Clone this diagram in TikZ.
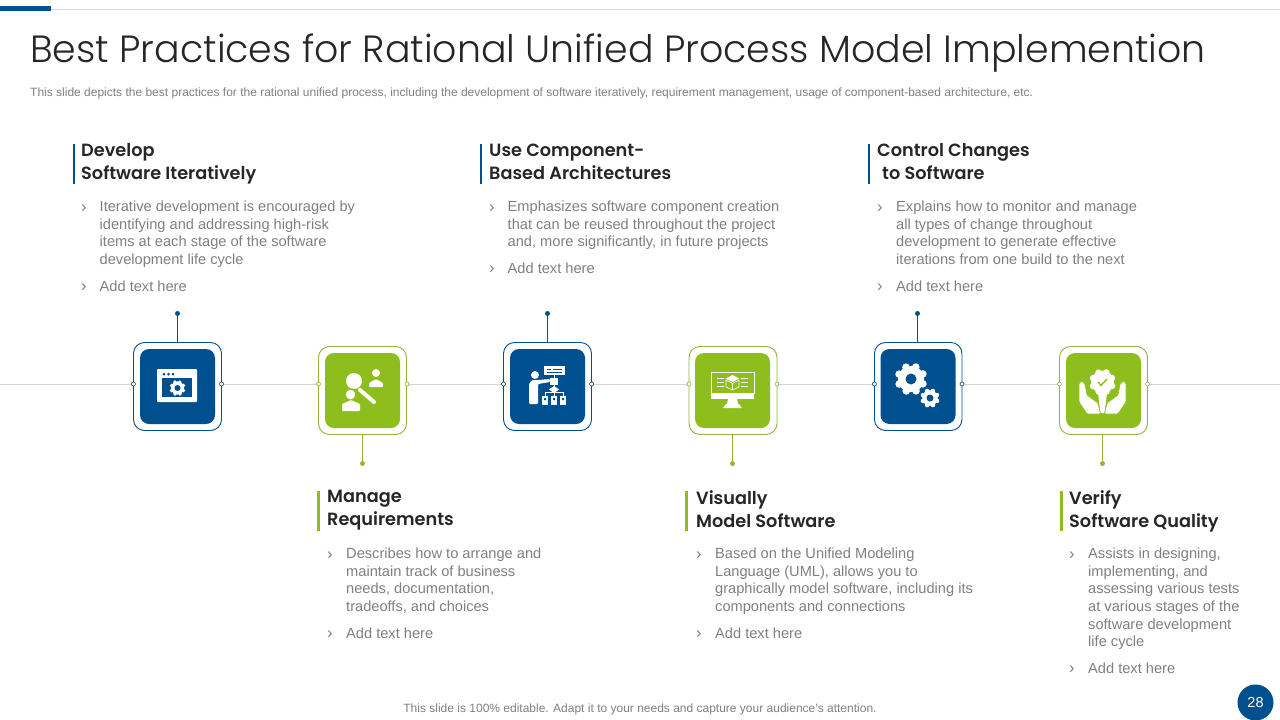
\documentclass[tikz,border=0pt]{standalone}
\usepackage{fontspec}
\setmainfont{Liberation Sans}
\newfontfamily\titlefont{Poppins Light}
\newfontfamily\headfont{Poppins SemiBold}
\definecolor{slideblue}{HTML}{00508F}
\definecolor{slidegreen}{HTML}{8DBE1D}
\definecolor{framegreen}{HTML}{93B33A}
\definecolor{textgray}{HTML}{7F7F7F}
\definecolor{darktext}{HTML}{262626}
\definecolor{rulegray}{HTML}{D4D4D4}
% scalloped wheel: x, y, radius, hole radius, hole colour
\newcommand{\cogwheel}[5]{
\fill[white] (#1,#2) circle ({0.82*#3});
\foreach \a in {0,45,...,315} {\fill[white] ($(#1,#2)+(\a+22:{0.8*#3})$) circle ({0.24*#3});}
\fill[#5] (#1,#2) circle (#4);
}
\usetikzlibrary{calc}

\begin{document}
\begin{tikzpicture}[x=1pt,y=-1pt]
\tikzset{bluebox/.style = {shape=rectangle,draw=slideblue,fill=white,line width=0.9pt,rounded corners=11pt,minimum size=88pt,inner sep=0}}
\tikzset{greenbox/.style = {bluebox,draw=framegreen}}
\tikzset{bluefill/.style = {shape=rectangle,fill=slideblue,rounded corners=9pt,minimum size=75pt,inner sep=0}}
\tikzset{greenfill/.style = {bluefill,fill=slidegreen}}
\tikzset{bluedot/.style = {shape=circle,fill=slideblue,minimum size=5pt,inner sep=0}}
\tikzset{greendot/.style = {shape=circle,fill=framegreen,minimum size=5pt,inner sep=0}}
\tikzset{blueport/.style = {shape=circle,draw=slideblue,fill=white,line width=0.6pt,minimum size=4pt,inner sep=0}}
\tikzset{greenport/.style = {blueport,draw=framegreen}}
\tikzset{bluestem/.style = {draw=slideblue,line width=1.1pt}}
\tikzset{greenstem/.style = {draw=framegreen,line width=1.1pt}}
\tikzset{timeline/.style = {draw=rulegray,line width=0.8pt}}
\tikzset{heading/.style = {anchor=north west,inner sep=0,align=left,text=darktext,font=\headfont\fontsize{17.7}{23}\selectfont,execute at begin node=\strut}}
\tikzset{bodytext/.style = {anchor=north west,inner sep=0,align=left,text=textgray,font=\fontsize{14.63}{17.6}\selectfont,execute at begin node=\strut}}
\tikzset{chevron/.style = {anchor=north west,inner sep=0,text=textgray,font=\fontsize{16.5}{17.6}\selectfont,execute at begin node=\strut}}
\tikzset{bluebar/.style = {shape=rectangle,fill=slideblue,minimum width=2.6pt,minimum height=40pt,inner sep=0}}
\tikzset{greenbar/.style = {bluebar,fill=slidegreen}}
\useasboundingbox (0,0) rectangle (1280,720);

% top rule and title
\coordinate (ruleR) at (1280,9.5);
\node[shape=rectangle,fill=slideblue,minimum width=51pt,minimum height=4.6pt,inner sep=0,anchor=west](topbar) at (0,8.5) {};
\draw[draw=rulegray,line width=0.8pt] (topbar.east |- ruleR) -- (ruleR);
\node[anchor=base west,inner sep=0,text=darktext,font=\titlefont\fontsize{37.9}{46}\selectfont](title) at (30,62.5) {Best Practices for Rational Unified Process Model Implemention};
\node[anchor=base west,inner sep=0,text=textgray,font=\fontsize{12}{14}\selectfont](subtitle) at (30,96) {This slide depicts the best practices for the rational unified process, including the development of software iteratively, requirement management, usage of component-based architecture, etc.};

% timeline
\coordinate (lineL) at (0,384);
\coordinate (lineR) at (1280,384);
\node[blueport](portAl) at (133.5,384) {};
\node[blueport](portAr) at (221.5,384) {};
\node[greenport](portBl) at (318.5,384) {};
\node[greenport](portBr) at (407,384) {};
\node[blueport](portCl) at (503.5,384) {};
\node[blueport](portCr) at (591.5,384) {};
\node[greenport](portDl) at (689,384) {};
\node[greenport](portDr) at (777,384) {};
\node[blueport](portEl) at (874.5,384) {};
\node[blueport](portEr) at (962,384) {};
\node[greenport](portFl) at (1059.5,384) {};
\node[greenport](portFr) at (1147.5,384) {};
\draw[timeline] (lineL) -- (portAl);
\draw[timeline] (portAr) -- (portBl);
\draw[timeline] (portBr) -- (portCl);
\draw[timeline] (portCr) -- (portDl);
\draw[timeline] (portDr) -- (portEl);
\draw[timeline] (portEr) -- (portFl);
\draw[timeline] (portFr) -- (lineR);

% frames
\node[bluebox](frameA) at (177.5,386.5) {};
\node[greenbox](frameB) at (362.5,390.5) {};
\node[bluebox](frameC) at (547.5,386.5) {};
\node[greenbox](frameD) at (733,390.5) {};
\node[bluebox,minimum width=87.5pt](frameE) at (918.2,386.5) {};
\node[greenbox](frameF) at (1103.5,390.5) {};
\node[bluefill](iconA) at (177.5,386.5) {};
\node[greenfill](iconB) at (362.5,390.5) {};
\node[bluefill](iconC) at (547.5,386.5) {};
\node[greenfill](iconD) at (732.5,390.5) {};
\node[bluefill](iconE) at (918,386.5) {};
\node[greenfill](iconF) at (1103.5,390.5) {};
\node[blueport](portAl) at (133.5,384) {};
\node[blueport](portAr) at (221.5,384) {};
\node[greenport](portBl) at (318.5,384) {};
\node[greenport](portBr) at (407,384) {};
\node[blueport](portCl) at (503.5,384) {};
\node[blueport](portCr) at (591.5,384) {};
\node[greenport](portDl) at (689,384) {};
\node[greenport](portDr) at (777,384) {};
\node[blueport](portEl) at (874.5,384) {};
\node[blueport](portEr) at (962,384) {};
\node[greenport](portFl) at (1059.5,384) {};
\node[greenport](portFr) at (1147.5,384) {};

% stems
\node[bluedot](dotA) at (177.5,313.5) {};
\node[greendot](dotB) at (362.5,463.5) {};
\node[bluedot](dotC) at (547.5,313.5) {};
\node[greendot](dotD) at (732.5,463.5) {};
\node[bluedot](dotE) at (917.5,313.5) {};
\node[greendot](dotF) at (1102.5,463.5) {};
\draw[bluestem] (dotA) -- (frameA.north -| dotA);
\draw[greenstem] (dotB) -- (frameB.south -| dotB);
\draw[bluestem] (dotC) -- (frameC.north -| dotC);
\draw[greenstem] (dotD) -- (frameD.south -| dotD);
\draw[bluestem] (dotE) -- (frameE.north -| dotE);
\draw[greenstem] (dotF) -- (frameF.south -| dotF);

% window icon
\fill[white,rounded corners=0.8pt] (157,369) rectangle (197,402);
\fill[slideblue] (162,378) rectangle (192,397);
\fill[slideblue] (164,374) circle (1.5) (168.5,374) circle (1.5) (173,374) circle (1.5);
\cogwheel{177.5}{388}{8}{3}{slideblue}

% search icon
\fill[white] (354,381) circle (8);
\draw[white,line width=4pt,line cap=round] (360,390) -- (374,402);
\fill[white] (376,373) circle (4);
\fill[white,rounded corners=1pt] (369,387) -- (369,383) -- (376,379) -- (383,383) -- (383,387) -- cycle;
\fill[white,draw=slidegreen,line width=1pt] (350.5,394.5) circle (5.5);
\fill[white,rounded corners=1pt] (342,411) -- (342,404) -- (351,400) -- (360,404) -- (360,411) -- cycle;

% presenter icon
\fill[white] (535,375) circle (4);
\fill[white,rounded corners=1pt] (529,404) -- (529,384) -- (532,380) -- (538,380) -- (550,379) -- (550,382) -- (538,384) -- (538,404) -- cycle;
\fill[white] (544,366) rectangle (565,375);
\draw[slideblue,line width=0.8pt] (547,369) -- (551,369) (553,369) -- (562,369) (547,372) -- (562,372);
\fill[white] (550,378) rectangle (558,385);
\fill[white] (554,386) -- (559,389.5) -- (554,393) -- (549,389.5) -- cycle;
\draw[white,line width=0.8pt] (554,375) -- (554,396) (545,396) -- (545,392.5) -- (563,392.5) -- (563,396);
\fill[white] (542,395.5) rectangle (548,405);
\fill[white] (551,395.5) rectangle (557,405);
\fill[white] (560,395.5) rectangle (566,405);
\fill[slideblue] (544,398) rectangle (546,400) (553,398) rectangle (555,400) (562,398) rectangle (564,400);

% monitor icon
\draw[white,line width=0.7pt] (711,372) rectangle (754,393);
\fill[white] (710.7,393) rectangle (754.3,399);
\fill[white] (728,399) -- (737,399) -- (738,404) -- (727,404) -- cycle;
\fill[white] (723,408) -- (726,404) -- (739,404) -- (742,408) -- cycle;
\fill[white] (732.5,375) -- (739.5,378.5) -- (732.5,382) -- (725.5,378.5) -- cycle;
\draw[white,line width=0.6pt] (726,380) -- (732.5,383.5) -- (739,380) (726,380) -- (726,387) -- (732.5,390) -- (739,387) -- (739,380) (732.5,383.5) -- (732.5,390);
\draw[white,line width=0.5pt] (717,378) -- (724,378) (717,382) -- (724,382) (717,386) -- (724,386) (741,378) -- (748,378) (741,382) -- (748,382) (741,386) -- (748,386);

% gears icon
\cogwheel{911}{379}{16}{5.5}{slideblue}
\cogwheel{930}{398}{9.5}{3.5}{slideblue}

% quality icon
\fill[white] (1098,393) -- (1107,393) -- (1104.5,413) -- (1100.5,413) -- cycle;
\cogwheel{1102.5}{382}{13}{11.5}{white}
\draw[slidegreen,line width=1.4pt] (1098,382) -- (1101,385.5) -- (1107,379);
\fill[white,draw=slidegreen,line width=0.7pt,rounded corners=1pt] (1079,383) -- (1082,381) -- (1085,384) -- (1087,395) -- (1098,403) -- (1100.5,414) -- (1087,414) -- (1079,402) -- cycle;
\fill[white,draw=slidegreen,line width=0.7pt,rounded corners=1pt] (1126,383) -- (1123,381) -- (1120,384) -- (1118,395) -- (1107,403) -- (1104.5,414) -- (1118,414) -- (1126,402) -- cycle;

% upper texts
\node[bluebar](barA) at (74,164) {};
\node[heading](headA) at (81,143.4) {Develop\\Software Iteratively};
\node[chevron](chevAa) at (81,200.4) {›};
\node[bodytext](bodyAa) at (99.5,200.9) {Iterative development is encouraged by\\identifying and addressing high-risk\\items at each stage of the software\\development life cycle};
\node[chevron](chevAb) at (81,279.4) {›};
\node[bodytext](bodyAb) at (99.5,279.4) {Add text here};

\node[bluebar](barC) at (481,164) {};
\node[heading](headC) at (489,143.4) {Use Component-\\Based Architectures};
\node[chevron](chevCa) at (489,200.4) {›};
\node[bodytext](bodyCa) at (507.5,200.9) {Emphasizes software component creation\\that can be reused throughout the project\\and, more significantly, in future projects};
\node[chevron](chevCb) at (489,261.4) {›};
\node[bodytext](bodyCb) at (507.5,261.4) {Add text here};

\node[bluebar](barE) at (869,164) {};
\node[heading](headE) at (877,143.4) {Control Changes\\\hspace*{5pt}to Software};
\node[chevron](chevEa) at (877,200.4) {›};
\node[bodytext](bodyEa) at (896,200.9) {Explains how to monitor and manage\\all types of change throughout\\development to generate effective\\iterations from one build to the next};
\node[chevron](chevEb) at (877,279.4) {›};
\node[bodytext](bodyEb) at (896,279.4) {Add text here};

% lower texts
\node[greenbar](barB) at (318.5,511) {};
\node[heading](headB) at (327,490.4) {Manage\\Requirements};
\node[chevron](chevBa) at (327,547.4) {›};
\node[bodytext](bodyBa) at (346,547.9) {Describes how to arrange and\\maintain track of business\\needs, documentation,\\tradeoffs, and choices};
\node[chevron](chevBb) at (327,626.4) {›};
\node[bodytext](bodyBb) at (346,626.4) {Add text here};

\node[greenbar](barD) at (686.5,511) {};
\node[heading](headD) at (696,490.4) {Visually\\Model Software};
\node[chevron](chevDa) at (696,547.4) {›};
\node[bodytext](bodyDa) at (715,547.9) {Based on the Unified Modeling\\Language (UML), allows you to\\graphically model software, including its\\components and connections};
\node[chevron](chevDb) at (696,626.4) {›};
\node[bodytext](bodyDb) at (715,626.4) {Add text here};

\node[greenbar](barF) at (1061.5,511) {};
\node[heading](headF) at (1069,490.4) {Verify\\Software Quality};
\node[chevron](chevFa) at (1069,547.4) {›};
\node[bodytext](bodyFa) at (1088,547.9) {Assists in designing,\\implementing, and\\assessing various tests\\at various stages of the\\software development\\life cycle};
\node[chevron](chevFb) at (1069,661.4) {›};
\node[bodytext](bodyFb) at (1088,661.4) {Add text here};

% footer
\node[anchor=base,inner sep=0,text=textgray,font=\fontsize{12}{14}\selectfont](footer) at (640,712.5) {This slide is 100\% editable. Adapt it to your needs and capture your audience's attention.};
\node[shape=circle,fill=slideblue,minimum size=36pt,inner sep=0,text=white,font=\fontsize{14.5}{16}\selectfont](pagenum) at (1255.5,702.5) {28};
\end{tikzpicture}
\end{document}
